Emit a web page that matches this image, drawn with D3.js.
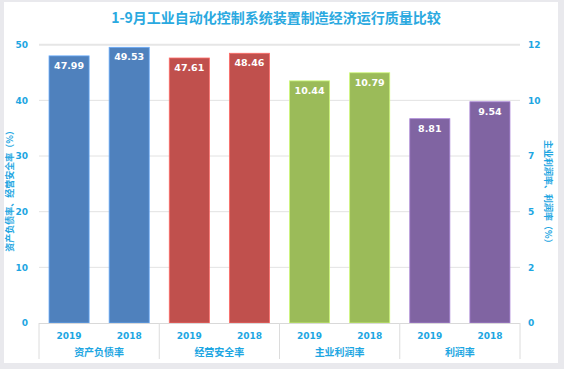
<!DOCTYPE html>
<html><head><meta charset="utf-8">
<script src="https://cdn.jsdelivr.net/npm/d3@7"></script>
<style>
body{margin:0;background:#E9E9ED;}
svg{display:block;font-family:"Microsoft YaHei","Noto Sans CJK SC",sans-serif;}
</style></head>
<body>
<svg id="c" width="564" height="369"></svg>
<script>
const title = "1-9月工业自动化控制系统装置制造经济运行质量比较";
const categories = ["资产负债率","经营安全率","主业利润率","利润率"];
const years = ["2019","2018"];
const values = [[47.99,49.53],[47.61,48.46],[10.44,10.79],[8.81,9.54]];
const axisSide = ["left","left","right","right"];
const colors = ["#4F81BD","#C0504D","#9BBB59","#8064A2"];
const leftTicks = [0,10,20,30,40,50];
const rightTicks = [0,2.4,4.8,7.2,9.6,12];
const leftTitle = "资产负债率、经营安全率（%）";
const rightTitle = "主业利润率、利润率（%）";

const svg = d3.select("#c");
const txt = "#1DA6E2";
svg.append("rect").attr("x",4).attr("y",2).attr("width",554).attr("height",361).attr("fill","#fff");

const x0 = 39, x1 = 520, yTop = 44.7, yBot = 323;
const yL = d3.scaleLinear().domain([0,50]).range([yBot,yTop]);
const yR = d3.scaleLinear().domain([0,12]).range([yBot,yTop]);
const xc = d3.scaleBand().domain(categories).range([x0,x1]);
const xy = d3.scaleBand().domain(years).range([0,xc.bandwidth()]).paddingInner(0.333).paddingOuter(0.1667);

svg.append("text").attr("x",276).attr("y",23).attr("text-anchor","middle")
  .attr("font-size",14).attr("font-weight","bold").attr("fill","#2AA9E0").text(title);

// grid
const grid = svg.append("g");
leftTicks.forEach(t=>{
  if(t===0) return;
  grid.append("line").attr("x1",x0).attr("x2",x1).attr("y1",yL(t)).attr("y2",yL(t))
    .attr("stroke", t===50?"#E6E6E6":"#E3E3E3").attr("stroke-width", t===50?2:1);
});

// left axis
const la = svg.append("g").attr("transform",`translate(${x0-11},0)`)
  .call(d3.axisLeft(yL).tickValues(leftTicks).tickSize(0).tickPadding(0));
la.select(".domain").remove();
la.selectAll("text").attr("fill",txt).attr("font-size",9).attr("font-weight","bold")
  .attr("font-family","Verdana,'DejaVu Sans',sans-serif");
// right axis
const ra = svg.append("g").attr("transform",`translate(${x1+8},0)`)
  .call(d3.axisRight(yR).tickValues(rightTicks).tickSize(0).tickPadding(0).tickFormat(d3.format(".0f")));
ra.select(".domain").remove();
ra.selectAll("text").attr("fill",txt).attr("font-size",9).attr("font-weight","bold")
  .attr("font-family","Verdana,'DejaVu Sans',sans-serif");

svg.append("text").attr("transform",`translate(13,${(yTop+yBot)/2+5}) rotate(-90)`)
  .attr("text-anchor","middle").attr("font-size",9).attr("font-weight","bold").attr("fill",txt).text(leftTitle);
svg.append("text").attr("transform",`translate(545,${(yTop+yBot)/2+10}) rotate(90)`)
  .attr("text-anchor","middle").attr("font-size",9).attr("font-weight","bold").attr("fill",txt).text(rightTitle);

// bars
categories.forEach((c,i)=>{
  const ys = axisSide[i]==="left"?yL:yR;
  const g = svg.append("g").attr("transform",`translate(${xc(c)},0)`);
  years.forEach((yr,j)=>{
    const v = values[i][j];
    g.append("rect").attr("x",xy(yr)).attr("width",xy.bandwidth())
      .attr("y",ys(v)).attr("height",yBot-ys(v)).attr("fill",colors[i])
      .attr("stroke",d3.color(colors[i]).brighter(0.8)).attr("stroke-width",0.8);
    g.append("text").attr("x",xy(yr)+xy.bandwidth()/2).attr("y",ys(v)+13)
      .attr("text-anchor","middle").attr("font-size",9.5).attr("font-weight","bold")
      .attr("fill","#fff").attr("font-family","Verdana,'DejaVu Sans',sans-serif").text(v.toFixed(2));
  });
});

// bottom category axis
const bx = svg.append("g");
bx.append("line").attr("x1",x0).attr("x2",x1).attr("y1",yBot+0.5).attr("y2",yBot+0.5).attr("stroke","#D9D9D9");
d3.range(categories.length+1).forEach(k=>{
  const xx = x0 + k*xc.bandwidth();
  bx.append("line").attr("x1",xx).attr("x2",xx).attr("y1",yBot).attr("y2",359).attr("stroke","#DCDCDC");
});
categories.forEach(c=>{
  years.forEach(yr=>{
    bx.append("text").attr("x",xc(c)+xy(yr)+xy.bandwidth()/2).attr("y",338.5)
      .attr("text-anchor","middle").attr("font-size",9).attr("font-weight","bold").attr("fill",txt)
      .attr("font-family","Verdana,'DejaVu Sans',sans-serif").text(yr);
  });
  bx.append("text").attr("x",xc(c)+xc.bandwidth()/2).attr("y",356)
    .attr("text-anchor","middle").attr("font-size",10).attr("font-weight","bold").attr("fill",txt).text(c);
});
</script>
</body></html>
